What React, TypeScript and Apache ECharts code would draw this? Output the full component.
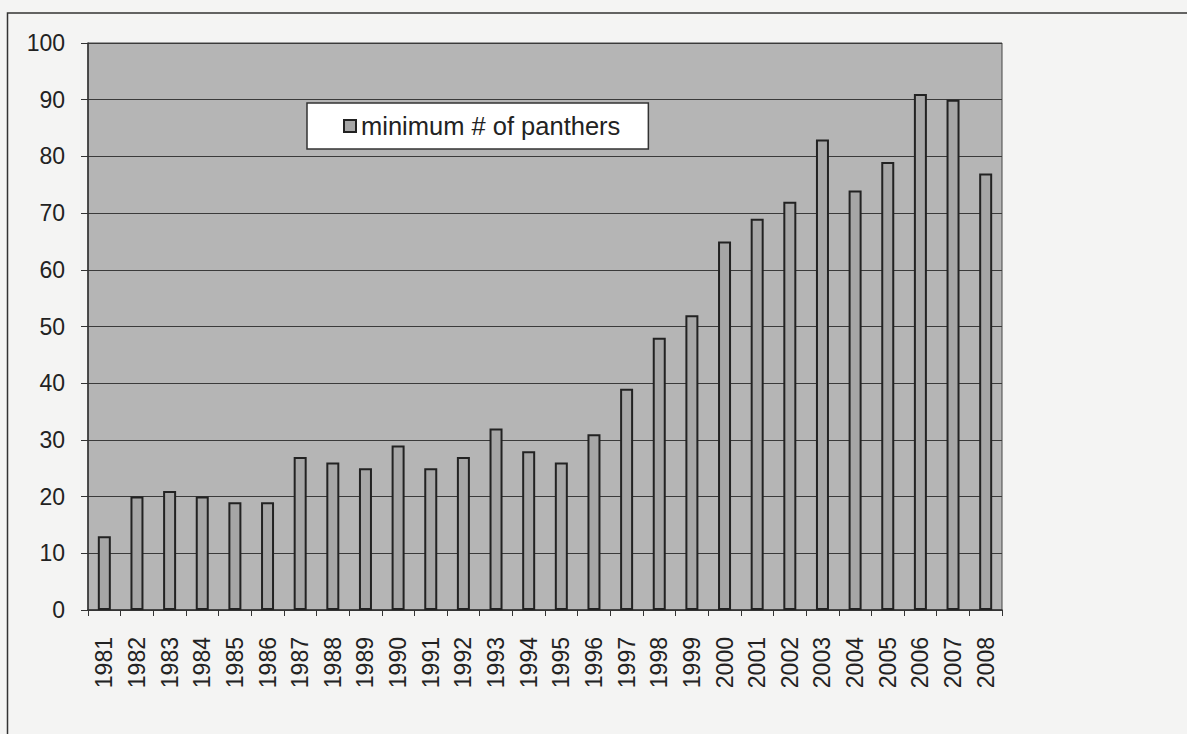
import React, { useEffect, useRef } from "react";
import * as echarts from "echarts";

const years = [
  "1981", "1982", "1983", "1984", "1985", "1986", "1987", "1988", "1989", "1990",
  "1991", "1992", "1993", "1994", "1995", "1996", "1997", "1998", "1999", "2000",
  "2001", "2002", "2003", "2004", "2005", "2006", "2007", "2008",
];
const panthers = [
  13, 20, 21, 20, 19, 19, 27, 26, 25, 29,
  25, 27, 32, 28, 26, 31, 39, 48, 52, 65,
  69, 72, 83, 74, 79, 91, 90, 77,
];
const seriesName = "minimum # of panthers";

const FONT = "'Liberation Sans', Arial, sans-serif";
const INK = "#222222";

export default function App() {
  const ref = useRef<HTMLDivElement>(null);
  useEffect(() => {
    if (!ref.current) return;
    const chart = echarts.init(ref.current, undefined, { renderer: "svg" });
    chart.setOption({
      animation: false,
      backgroundColor: "#f4f4f3",
      textStyle: { fontFamily: FONT },
      graphic: [
        {
          type: "rect",
          shape: { x: 7.5, y: 13, width: 1220, height: 800 },
          style: { fill: "none", stroke: "#333333", lineWidth: 1.5 },
          z: -1,
        },
      ],
      grid: {
        left: 88,
        top: 43,
        right: 185,
        bottom: 124,
        show: true,
        backgroundColor: "#b5b5b5",
        borderColor: "#444444",
        borderWidth: 1,
      },
      legend: {
        data: [seriesName],
        left: 307,
        top: 103,
        padding: [10, 28, 10, 36],
        backgroundColor: "#ffffff",
        borderColor: "#333333",
        borderWidth: 1.5,
        borderRadius: 0,
        icon: "rect",
        itemWidth: 12,
        itemHeight: 12,
        itemGap: 5,
        itemStyle: { color: "#a6a6a6", borderColor: INK, borderWidth: 2 },
        textStyle: { fontSize: 25.5, color: INK, fontFamily: FONT },
      },
      xAxis: {
        type: "category",
        data: years,
        boundaryGap: true,
        axisLine: { show: true, lineStyle: { color: "#333333", width: 1.5 } },
        axisTick: { show: true, length: 6, alignWithLabel: false, lineStyle: { color: "#333333" } },
        axisLabel: {
          rotate: 90,
          margin: 27,
          fontSize: 23,
          color: INK,
          fontFamily: FONT,
          interval: 0,
        },
        splitLine: { show: false },
      },
      yAxis: {
        type: "value",
        min: 0,
        max: 100,
        interval: 10,
        axisLine: { show: true, lineStyle: { color: "#333333", width: 1.5 } },
        axisTick: { show: true, inside: false, length: 7, lineStyle: { color: "#333333" } },
        axisLabel: { margin: 23, fontSize: 23, color: INK, fontFamily: FONT },
        splitLine: { show: true, lineStyle: { color: "#3a3a3a", width: 1 } },
      },
      series: [
        {
          name: seriesName,
          type: "bar",
          data: panthers,
          barWidth: 13,
          itemStyle: { color: "#a6a6a6", borderColor: INK, borderWidth: 2 },
        },
      ],
    });
    return () => chart.dispose();
  }, []);
  return (
    <div
      ref={ref}
      style={{ position: "fixed", left: 0, top: 0, width: 1187, height: 734 }}
    />
  );
}
